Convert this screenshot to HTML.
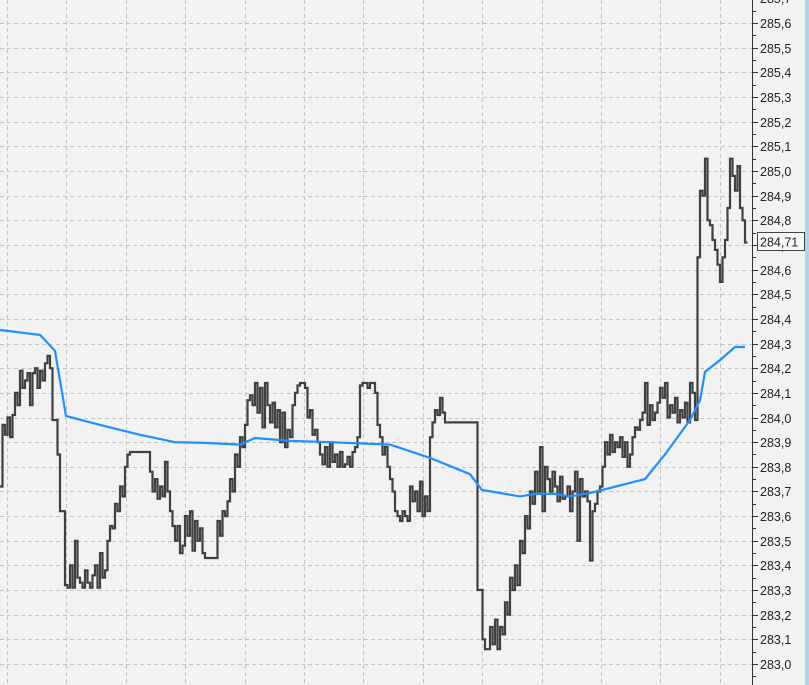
<!DOCTYPE html>
<html><head><meta charset="utf-8"><style>
html,body{margin:0;padding:0;background:#f2f2f2;}
svg{display:block;font-family:"Liberation Sans",sans-serif;}
</style></head><body>
<svg id="chart" width="809" height="685" xmlns="http://www.w3.org/2000/svg">
<rect x="0" y="0" width="809" height="685" fill="#f2f2f2"/>
<g id="grid"></g>
<g id="series"></g>
<g id="axis"></g>
<rect x="805" y="0" width="4" height="685" fill="#b9d1ea"/>
</svg>
<script>
const priceValues = [
283.72,283.97,283.93,284.00,283.92,284.01,284.10,284.05,284.19,284.12,
284.15,284.18,284.05,284.18,284.20,284.12,284.19,284.15,284.22,284.25,
284.20,283.99,283.99,283.85,283.62,283.62,283.32,283.31,283.40,283.31,
283.50,283.35,283.33,283.31,283.38,283.33,283.31,283.36,283.40,283.31,
283.45,283.35,283.38,283.50,283.56,283.55,283.65,283.62,283.72,283.68,
283.80,283.85,283.86,283.86,283.86,283.86,283.86,283.86,283.86,283.86,
283.78,283.70,283.75,283.67,283.72,283.68,283.82,283.70,283.62,283.56,
283.50,283.56,283.45,283.48,283.60,283.52,283.62,283.46,283.58,283.50,
283.55,283.45,283.43,283.43,283.43,283.43,283.43,283.58,
283.52,283.62,283.60,283.66,283.75,283.70,283.85,283.80,283.92,283.88,
283.97,284.07,284.09,284.05,284.14,284.02,284.12,283.96,284.14,284.05,
283.98,284.06,283.96,284.03,283.90,284.02,283.88,283.95,283.92,284.05,
284.10,284.13,284.14,284.14,284.12,284.00,284.03,283.93,283.95,283.90,
283.85,283.81,283.88,283.80,283.90,283.82,283.85,283.80,283.86,283.80,
283.81,283.84,283.80,283.86,283.88,283.92,284.13,284.14,284.14,284.12,
284.14,284.14,284.10,283.97,283.92,283.85,283.88,283.80,283.75,283.70,
283.62,283.60,283.58,283.62,283.60,283.58,283.72,283.66,283.70,283.62,
283.74,283.60,283.68,283.62,283.92,283.98,284.03,284.01,284.08,284.02,
283.98,283.98,283.98,283.98,283.98,283.98,283.98,283.98,283.98,283.98,283.98,283.98,283.98,
283.30,
283.30,283.10,283.06,283.06,283.15,283.08,283.18,283.06,283.15,283.12,
283.25,283.20,283.35,283.30,283.40,283.32,283.50,283.45,283.60,283.55,
283.70,283.65,283.78,283.70,283.88,283.62,283.80,283.75,283.70,283.78,
283.72,283.66,283.76,283.67,283.68,283.72,283.62,283.70,283.78,283.50,
283.75,283.68,283.70,283.66,283.42,283.62,283.65,283.70,283.72,283.80,
283.90,283.85,283.93,283.86,283.90,283.88,283.92,283.84,283.90,283.80,
283.85,283.92,283.96,283.95,283.99,284.02,284.14,283.97,284.05,283.99,
284.02,284.06,284.12,284.08,284.14,284.00,284.05,284.02,284.08,283.98,
284.03,284.00,284.06,283.98,284.14,284.10,
283.99,284.65,284.92,284.90,285.05,284.80,
284.78,284.72,284.68,284.62,284.55,284.65,284.72,284.85,285.05,284.98,
284.92,285.02,284.85,284.80,
284.71
];
const maIndex = [0,16,22,24,26.4,40,56,70,82,96,102,116,132,156,172,188,192.8,208,214,222,228,236,244,258,266,276,280,282,288,294,298];
const maValues = [284.355,284.335,284.27,284.15,284.006,283.97,283.93,283.90,283.897,283.89,283.917,283.905,283.90,283.89,283.836,283.77,283.706,283.68,283.69,283.69,283.68,283.694,283.714,283.75,283.85,283.99,284.07,284.185,284.233,284.286,284.286];
const tickValues = [285.7,285.6,285.5,285.4,285.3,285.2,285.1,285.0,284.9,284.8,284.7,284.6,284.5,284.4,284.3,284.2,284.1,284.0,283.9,283.8,283.7,283.6,283.5,283.4,283.3,283.2,283.1,283.0,282.9];
const lastPrice = 284.71;

const NS="http://www.w3.org/2000/svg";
const PLOT_RIGHT=748, AXIS_X=752, STEP=2.5;
function yScale(v){return 171+(285.0-v)*246.5;}
function xScale(i){return i*STEP;}
function fmt(v,d){return v.toFixed(d).replace('.',',');}
function mk(tag,attrs,parent){const e=document.createElementNS(NS,tag);for(const k in attrs)e.setAttribute(k,attrs[k]);parent.appendChild(e);return e;}

const grid=document.getElementById('grid');
for(let gx=7;gx<PLOT_RIGHT;gx+=59.4){
  const l=mk('line',{x1:Math.round(gx)+0.5,y1:0,x2:Math.round(gx)+0.5,y2:685,stroke:'#c4c4c4','stroke-dasharray':'4 3'},grid);
  
  
}
tickValues.forEach(v=>{
  const y=Math.round(yScale(v))+0.5;
  const l=mk('line',{x1:0,y1:y,x2:AXIS_X,y2:y,stroke:'#c4c4c4','stroke-dasharray':'4 3'},grid);
  
  
});

const series=document.getElementById('series');
let d='';
priceValues.forEach((v,i)=>{
  const x=xScale(i), y=yScale(v);
  d+= (i===0?'M':'L')+x.toFixed(1)+' '+y.toFixed(1)+' ';
  const x2=Math.min(xScale(i+1),PLOT_RIGHT);
  d+='L'+x2.toFixed(1)+' '+y.toFixed(1)+' ';
});
const pl=mk('path',{d:d,fill:'none',stroke:'#404040','stroke-width':2.2,'stroke-linejoin':'miter'},series);


let md='';
maIndex.forEach((idx,i)=>{md+=(i===0?'M':'L')+xScale(idx).toFixed(1)+' '+yScale(maValues[i]).toFixed(1)+' ';});
const ma=mk('path',{d:md,fill:'none',stroke:'#1e90ff','stroke-width':2.2},series);



const axis=document.getElementById('axis');
const al=mk('line',{x1:AXIS_X+0.5,y1:0,x2:AXIS_X+0.5,y2:685,stroke:'#333','stroke-width':1},axis);


tickValues.forEach(v=>{
  const y=Math.round(yScale(v))+0.5;
  const t=mk('line',{x1:AXIS_X,y1:y,x2:AXIS_X+6,y2:y,stroke:'#333'},axis);
  
  
  const ym=Math.round(yScale(v-0.05))+0.5;
  const m=mk('line',{x1:AXIS_X,y1:ym,x2:AXIS_X+4,y2:ym,stroke:'#333'},axis);
  
  
  const tx=mk('text',{x:760,y:y+4.5,'font-size':12.5,fill:'#222'},axis);
  tx.textContent=fmt(v,1);
  
  
});
const ly=yScale(lastPrice);
const box=mk('rect',{x:757.5,y:(Math.round(ly)-9.5),width:47,height:18,fill:'#f7f7f7',stroke:'#444'},axis);


const lt=mk('text',{x:760,y:Math.round(ly)+4.5,'font-size':12.5,fill:'#222'},axis);
lt.textContent=fmt(lastPrice,2);


</script>
</body></html>
